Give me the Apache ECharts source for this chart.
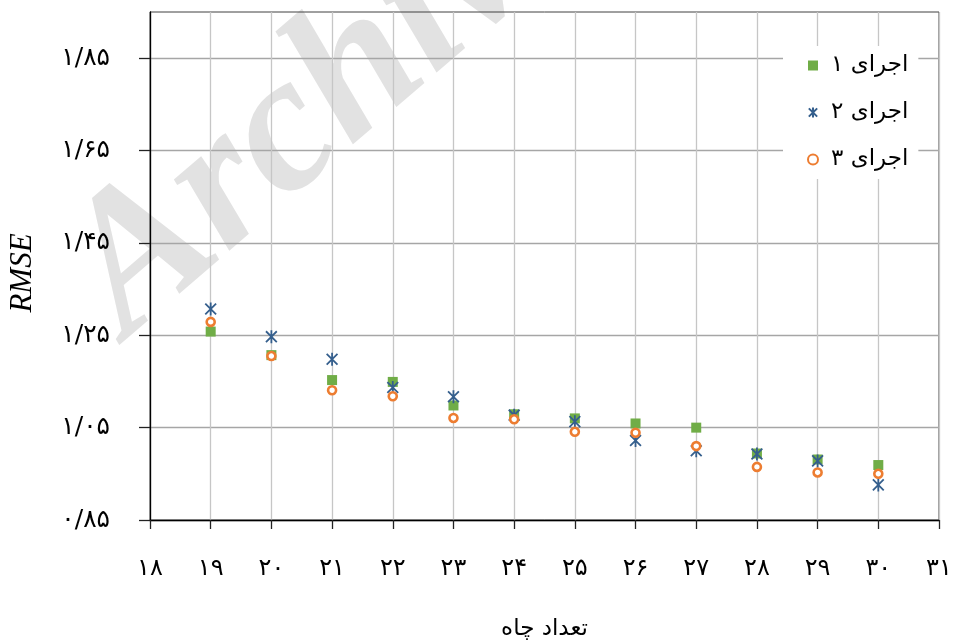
<!DOCTYPE html>
<html>
<head>
<meta charset="utf-8">
<script src="https://cdn.jsdelivr.net/npm/echarts@6/dist/echarts.min.js"></script>
<style>
  html, body { margin: 0; padding: 0; background: #fff; }
  #chart { width: 955px; height: 644px; }
</style>
</head>
<body>
<div id="chart"></div>
<script>
// Number of wells (x) and RMSE of three runs
const wells = [19, 20, 21, 22, 23, 24, 25, 26, 27, 28, 29, 30];
const run1 = [1.258, 1.207, 1.153, 1.149, 1.098, 1.079, 1.070, 1.059, 1.050, 0.994, 0.981, 0.969];
const run2 = [1.307, 1.247, 1.198, 1.137, 1.117, 1.077, 1.063, 1.022, 1.000, 0.993, 0.978, 0.926];
const run3 = [1.279, 1.205, 1.131, 1.118, 1.071, 1.068, 1.041, 1.039, 1.010, 0.965, 0.953, 0.950];
const seriesNames = ['اجرای ۱', 'اجرای ۲', 'اجرای ۳'];
const yTicks = [0.85, 1.05, 1.25, 1.45, 1.65, 1.85];
const xAxisTitle = 'تعداد چاه';
const yAxisTitle = 'RMSE';
const watermark = 'Archive of SID';

const faDigits = '۰۱۲۳۴۵۶۷۸۹';
function toFa(str) {
  return String(str).replace(/[0-9]/g, d => faDigits[+d]).replace(/\./g, '/');
}
function pairs(ys) { return wells.map((x, i) => [x, ys[i]]); }

const faFont = '"DejaVu Sans", sans-serif';
const asterisk = 'path://M0,0L10,10M10,0L0,10M5,-1L5,11';

const chart = echarts.init(document.getElementById('chart'), null, { renderer: 'canvas' });
chart.setOption({
  animation: false,
  backgroundColor: '#fff',
  graphic: [{
    type: 'text',
    z: -10,
    x: 94, y: 300,
    rotation: 0.71,
    style: {
      text: watermark,
      font: 'italic bold 196px "Liberation Serif", serif',
      fill: '#e2e2e2',
      verticalAlign: 'middle',
      align: 'left'
    }
  }],
  grid: {
    left: 150, right: 16, top: 12, bottom: 124,
    outerBoundsMode: 'none',
    containLabel: false,
    show: true, borderColor: '#404040', borderWidth: 1,
    backgroundColor: 'transparent'
  },
  legend: {
    orient: 'vertical',
    left: 783, top: 46,
    width: 142,
    padding: [8, 10, 8, 24],
    backgroundColor: '#fff',
    itemGap: 24,
    itemWidth: 10, itemHeight: 10,
    textStyle: { fontFamily: faFont, fontSize: 23, color: '#000', padding: [0, 0, 0, 8] },
    data: seriesNames
  },
  xAxis: {
    type: 'value', min: 18, max: 31, interval: 1,
    axisLine: { lineStyle: { color: '#000', width: 1.3 } },
    axisTick: { inside: false, length: 9, lineStyle: { color: '#222', width: 1.3 } },
    axisLabel: {
      margin: 37, fontFamily: faFont, fontSize: 24, color: '#000',
      formatter: v => toFa(v)
    },
    splitLine: { show: true, lineStyle: { color: '#c6c6c6', width: 1.3 } },
    name: xAxisTitle, nameLocation: 'middle', nameGap: 98,
    nameMoveOverlap: false,
    nameTextStyle: { fontFamily: faFont, fontSize: 23, color: '#000' }
  },
  yAxis: {
    type: 'value', min: 0.85, max: 1.95,
    axisLine: { show: true, lineStyle: { color: '#000', width: 1.3 } },
    axisTick: { show: true, length: 11, customValues: yTicks, lineStyle: { color: '#222', width: 1.3 } },
    axisLabel: {
      customValues: yTicks,
      margin: 40, fontFamily: faFont, fontSize: 25, color: '#000',
      formatter: v => toFa(v.toFixed(2))
    },
    splitLine: { show: true, customValues: yTicks, lineStyle: { color: '#a6a6a6', width: 1.3 } },
    name: yAxisTitle, nameLocation: 'middle', nameGap: 112, nameRotate: 90,
    nameMoveOverlap: false,
    nameTextStyle: {
      fontFamily: '"Liberation Serif", serif', fontStyle: 'italic',
      fontSize: 31, color: '#000', padding: [0, 14, 0, 0]
    }
  },
  series: [
    {
      name: seriesNames[0], type: 'scatter', data: pairs(run1),
      symbol: 'rect', symbolSize: 10,
      itemStyle: { color: '#70ad47', opacity: 1 }
    },
    {
      name: seriesNames[1], type: 'scatter', data: pairs(run2),
      symbol: asterisk, symbolSize: 13, symbolKeepAspect: true,
      itemStyle: { color: 'rgba(0,0,0,0)', borderColor: '#355f8d', borderWidth: 1.8, opacity: 1 }
    },
    {
      name: seriesNames[2], type: 'scatter', data: pairs(run3),
      symbol: 'circle', symbolSize: 8,
      itemStyle: { color: '#fff', borderColor: '#ed7d31', borderWidth: 2.6, opacity: 1 }
    }
  ]
});
</script>
</body>
</html>
